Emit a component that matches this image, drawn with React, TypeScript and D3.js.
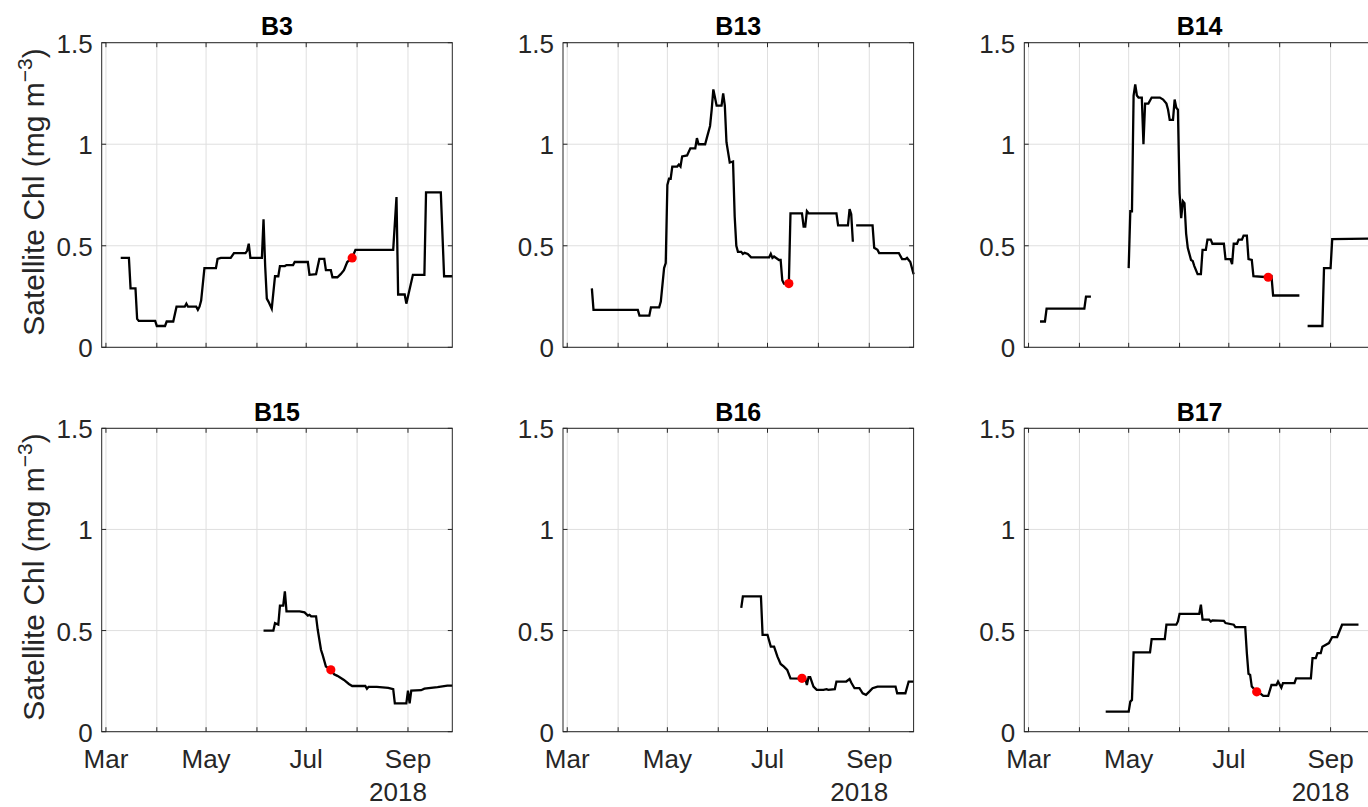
import React from "react";
import * as d3 from "d3";

type Pt = [string, number] | null;

// month ticks / grid lines and their labels (every other month is labelled)
const monthTicks = ["2018-03-01", "2018-04-01", "2018-05-01", "2018-06-01", "2018-07-01", "2018-08-01", "2018-09-01"];
const monthLabels = ["Mar", "", "May", "", "Jul", "", "Sep"];
const yearLabel = "2018";
const yTicks = [0, 0.5, 1, 1.5];
const yTickLabels = ["0", "0.5", "1", "1.5"];
const titles = ["B3", "B13", "B14", "B15", "B16", "B17"];

// satellite chl series (null = gap in the record)
const b3: Pt[] = [
  ["2018-03-10", 0.44], ["2018-03-15", 0.44], ["2018-03-16", 0.29], ["2018-03-19", 0.29], ["2018-03-20", 0.14],
  ["2018-03-21", 0.13], ["2018-03-31", 0.13], ["2018-04-01", 0.105], ["2018-04-06", 0.105], ["2018-04-07", 0.127],
  ["2018-04-11", 0.127], ["2018-04-13", 0.2], ["2018-04-18", 0.2], ["2018-04-19", 0.215], ["2018-04-20", 0.2],
  ["2018-04-25", 0.2], ["2018-04-26", 0.185], ["2018-04-27", 0.2], ["2018-04-28", 0.23], ["2018-04-30", 0.39],
  ["2018-05-07", 0.39], ["2018-05-08", 0.435], ["2018-05-10", 0.44], ["2018-05-16", 0.44], ["2018-05-18", 0.464],
  ["2018-05-25", 0.464], ["2018-05-26", 0.475], ["2018-05-27", 0.51], ["2018-05-28", 0.44], ["2018-06-04", 0.44],
  ["2018-06-05", 0.63], ["2018-06-06", 0.4], ["2018-06-07", 0.24], ["2018-06-08", 0.225], ["2018-06-10", 0.19],
  ["2018-06-12", 0.35], ["2018-06-14", 0.35], ["2018-06-15", 0.4], ["2018-06-18", 0.4], ["2018-06-19", 0.405],
  ["2018-06-23", 0.405], ["2018-06-24", 0.42], ["2018-07-02", 0.42], ["2018-07-03", 0.357], ["2018-07-07", 0.36],
  ["2018-07-09", 0.435], ["2018-07-12", 0.435], ["2018-07-13", 0.38], ["2018-07-16", 0.38], ["2018-07-17", 0.345],
  ["2018-07-20", 0.345], ["2018-07-22", 0.36], ["2018-07-24", 0.38], ["2018-07-26", 0.42], ["2018-07-29", 0.44],
  ["2018-07-31", 0.48], ["2018-08-23", 0.48], ["2018-08-25", 0.74], ["2018-08-26", 0.26], ["2018-08-30", 0.26],
  ["2018-08-31", 0.215], ["2018-09-04", 0.357], ["2018-09-11", 0.357], ["2018-09-12", 0.763], ["2018-09-21", 0.763],
  ["2018-09-23", 0.35], ["2018-09-28", 0.35],
];

const b13: Pt[] = [
  ["2018-03-16", 0.29], ["2018-03-17", 0.184], ["2018-04-13", 0.184], ["2018-04-14", 0.156], ["2018-04-20", 0.156],
  ["2018-04-21", 0.197], ["2018-04-26", 0.197], ["2018-04-27", 0.225], ["2018-04-29", 0.39], ["2018-04-30", 0.415],
  ["2018-05-01", 0.8], ["2018-05-02", 0.83], ["2018-05-03", 0.83], ["2018-05-04", 0.89], ["2018-05-07", 0.89],
  ["2018-05-08", 0.9], ["2018-05-09", 0.89], ["2018-05-10", 0.94], ["2018-05-13", 0.945], ["2018-05-15", 0.98],
  ["2018-05-18", 0.98], ["2018-05-19", 1.03], ["2018-05-20", 1.0], ["2018-05-24", 1.0], ["2018-05-25", 1.03],
  ["2018-05-27", 1.09], ["2018-05-28", 1.17], ["2018-05-29", 1.27], ["2018-05-30", 1.23], ["2018-05-31", 1.19],
  ["2018-06-03", 1.19], ["2018-06-04", 1.25], ["2018-06-05", 1.19], ["2018-06-06", 1.01], ["2018-06-08", 0.91],
  ["2018-06-10", 0.915], ["2018-06-11", 0.645], ["2018-06-12", 0.5], ["2018-06-13", 0.47], ["2018-06-15", 0.47],
  ["2018-06-16", 0.46], ["2018-06-17", 0.465], ["2018-06-19", 0.46], ["2018-06-21", 0.443], ["2018-07-02", 0.443],
  ["2018-07-03", 0.46], ["2018-07-04", 0.44], ["2018-07-05", 0.447], ["2018-07-08", 0.43], ["2018-07-09", 0.43],
  ["2018-07-10", 0.33], ["2018-07-11", 0.314], ["2018-07-14", 0.314], ["2018-07-15", 0.66], ["2018-07-22", 0.66],
  ["2018-07-23", 0.595], ["2018-07-24", 0.595], ["2018-07-25", 0.67], ["2018-07-26", 0.66], ["2018-08-12", 0.66],
  ["2018-08-13", 0.6], ["2018-08-19", 0.6], ["2018-08-20", 0.68], ["2018-08-21", 0.655], ["2018-08-22", 0.52],
  null,
  ["2018-08-24", 0.6], ["2018-09-03", 0.6], ["2018-09-04", 0.49], ["2018-09-06", 0.48], ["2018-09-07", 0.464],
  ["2018-09-19", 0.464], ["2018-09-21", 0.434], ["2018-09-23", 0.434], ["2018-09-24", 0.44], ["2018-09-26", 0.42],
  ["2018-09-28", 0.36],
];

const b14: Pt[] = [
  ["2018-03-08", 0.127], ["2018-03-11", 0.127], ["2018-03-12", 0.19], ["2018-04-04", 0.19], ["2018-04-05", 0.25],
  ["2018-04-08", 0.25],
  null,
  ["2018-05-01", 0.39], ["2018-05-02", 0.67], ["2018-05-03", 0.67], ["2018-05-04", 1.24], ["2018-05-05", 1.295],
  ["2018-05-06", 1.24], ["2018-05-07", 1.23], ["2018-05-09", 1.23], ["2018-05-10", 1.0], ["2018-05-11", 1.2],
  ["2018-05-13", 1.2], ["2018-05-15", 1.23], ["2018-05-20", 1.23], ["2018-05-22", 1.22], ["2018-05-24", 1.2],
  ["2018-05-25", 1.17], ["2018-05-26", 1.12], ["2018-05-28", 1.12], ["2018-05-29", 1.22], ["2018-05-30", 1.18],
  ["2018-05-31", 1.17], ["2018-06-01", 0.76], ["2018-06-02", 0.636], ["2018-06-03", 0.72], ["2018-06-04", 0.71],
  ["2018-06-05", 0.56], ["2018-06-06", 0.49], ["2018-06-08", 0.43], ["2018-06-09", 0.425], ["2018-06-10", 0.4],
  ["2018-06-12", 0.36], ["2018-06-14", 0.36], ["2018-06-15", 0.48], ["2018-06-17", 0.48], ["2018-06-18", 0.53],
  ["2018-06-20", 0.53], ["2018-06-21", 0.51], ["2018-06-28", 0.51], ["2018-06-29", 0.434], ["2018-07-02", 0.434],
  ["2018-07-03", 0.41], ["2018-07-04", 0.51], ["2018-07-06", 0.51], ["2018-07-07", 0.53], ["2018-07-09", 0.53],
  ["2018-07-10", 0.55], ["2018-07-12", 0.55], ["2018-07-13", 0.434], ["2018-07-15", 0.43], ["2018-07-16", 0.35],
  ["2018-07-25", 0.345], ["2018-07-27", 0.35], ["2018-07-28", 0.255], ["2018-08-13", 0.255],
  null,
  ["2018-08-18", 0.105], ["2018-08-27", 0.105], ["2018-08-28", 0.39], ["2018-09-01", 0.39], ["2018-09-02", 0.533],
  ["2018-09-28", 0.535],
];

const b15: Pt[] = [
  ["2018-06-05", 0.5], ["2018-06-11", 0.5], ["2018-06-12", 0.537], ["2018-06-14", 0.53], ["2018-06-15", 0.623],
  ["2018-06-17", 0.623], ["2018-06-18", 0.694], ["2018-06-19", 0.595], ["2018-06-27", 0.595], ["2018-06-30", 0.59],
  ["2018-07-02", 0.574], ["2018-07-03", 0.578], ["2018-07-04", 0.57], ["2018-07-07", 0.57], ["2018-07-08", 0.505],
  ["2018-07-10", 0.405], ["2018-07-11", 0.38], ["2018-07-13", 0.322], ["2018-07-16", 0.306], ["2018-07-18", 0.284],
  ["2018-07-20", 0.276], ["2018-07-24", 0.256], ["2018-07-27", 0.236], ["2018-07-29", 0.226], ["2018-08-06", 0.226],
  ["2018-08-07", 0.212], ["2018-08-08", 0.222], ["2018-08-13", 0.222], ["2018-08-20", 0.217], ["2018-08-23", 0.21],
  ["2018-08-24", 0.14], ["2018-08-31", 0.14], ["2018-09-01", 0.203], ["2018-09-02", 0.14], ["2018-09-03", 0.203],
  ["2018-09-09", 0.205], ["2018-09-11", 0.213], ["2018-09-19", 0.22], ["2018-09-25", 0.228], ["2018-09-28", 0.228],
];

const b16: Pt[] = [
  ["2018-06-15", 0.612], ["2018-06-16", 0.669], ["2018-06-27", 0.669], ["2018-06-28", 0.479], ["2018-07-01", 0.479],
  ["2018-07-03", 0.421], ["2018-07-05", 0.421], ["2018-07-07", 0.372], ["2018-07-09", 0.335], ["2018-07-11", 0.322],
  ["2018-07-13", 0.306], ["2018-07-15", 0.264], ["2018-07-24", 0.262], ["2018-07-25", 0.231], ["2018-07-26", 0.27],
  ["2018-07-27", 0.27], ["2018-07-29", 0.223], ["2018-07-31", 0.207], ["2018-08-04", 0.207], ["2018-08-06", 0.21],
  ["2018-08-07", 0.207], ["2018-08-11", 0.21], ["2018-08-12", 0.248], ["2018-08-18", 0.248], ["2018-08-20", 0.26],
  ["2018-08-21", 0.243], ["2018-08-23", 0.215], ["2018-08-26", 0.215], ["2018-08-28", 0.19], ["2018-08-30", 0.182],
  ["2018-09-01", 0.198], ["2018-09-03", 0.215], ["2018-09-06", 0.223], ["2018-09-17", 0.223], ["2018-09-18", 0.19],
  ["2018-09-23", 0.19], ["2018-09-25", 0.248], ["2018-09-28", 0.248],
];

const b17: Pt[] = [
  ["2018-04-17", 0.099], ["2018-05-01", 0.099], ["2018-05-02", 0.149], ["2018-05-03", 0.157], ["2018-05-04", 0.392],
  ["2018-05-14", 0.392], ["2018-05-15", 0.458], ["2018-05-23", 0.458], ["2018-05-24", 0.529], ["2018-05-30", 0.529],
  ["2018-05-31", 0.545], ["2018-06-01", 0.583], ["2018-06-13", 0.583], ["2018-06-14", 0.628], ["2018-06-15", 0.554],
  ["2018-06-19", 0.554], ["2018-06-20", 0.545], ["2018-06-21", 0.55], ["2018-06-28", 0.548], ["2018-06-29", 0.537],
  ["2018-07-04", 0.529], ["2018-07-05", 0.517], ["2018-07-11", 0.517], ["2018-07-12", 0.388], ["2018-07-13", 0.286],
  ["2018-07-14", 0.281], ["2018-07-15", 0.223], ["2018-07-18", 0.197], ["2018-07-20", 0.19], ["2018-07-22", 0.177],
  ["2018-07-25", 0.177], ["2018-07-27", 0.231], ["2018-07-30", 0.231], ["2018-07-31", 0.248], ["2018-08-02", 0.218],
  ["2018-08-03", 0.24], ["2018-08-10", 0.24], ["2018-08-11", 0.264], ["2018-08-20", 0.264], ["2018-08-21", 0.364],
  ["2018-08-23", 0.364], ["2018-08-24", 0.388], ["2018-08-26", 0.388], ["2018-08-27", 0.42], ["2018-08-31", 0.438],
  ["2018-09-02", 0.468], ["2018-09-05", 0.468], ["2018-09-08", 0.529], ["2018-09-18", 0.529],
];

// red markers, one per panel
const redDots: [string, number][] = [
  ["2018-07-29", 0.44], ["2018-07-14", 0.314], ["2018-07-25", 0.345],
  ["2018-07-16", 0.306], ["2018-07-22", 0.264], ["2018-07-18", 0.197],
];

const series = [b3, b13, b14, b15, b16, b17];

const parse = d3.timeParse("%Y-%m-%d");
const ink = "#262626";
const gridColor = "#dfdfdf";
const font = "'Liberation Sans', Arial, Helvetica, sans-serif";

// layout of the 2x3 axes grid (matlab subplot look)
const colLeft = [101.7, 563, 1024.3];
const rowTop = [42.7, 428.3];
const axW = 350.6;
const axH = [304.6, 303.4];
const tickLen = 4.5;

function Panel({ i }: { i: number }) {
  const col = i % 3;
  const row = Math.floor(i / 3);
  const left = colLeft[col];
  const top = rowTop[row];
  const right = left + axW;
  const bottom = top + axH[row];

  const x = d3
    .scaleTime()
    .domain([new Date(2018, 1, 26, 10), new Date(2018, 8, 28, 0)])
    .range([left, right]);
  const y = d3.scaleLinear().domain([0, 1.5]).range([bottom, top]);

  const line = d3
    .line<Pt>()
    .defined((d) => d !== null)
    .x((d) => x(parse(d![0])!))
    .y((d) => y(d![1]));

  const months = monthTicks.map((m) => parse(m)!);
  const dot = redDots[i];

  return (
    <g>
      {/* grid */}
      {months.map((m, k) => (
        <line key={"gx" + k} x1={x(m)} x2={x(m)} y1={top} y2={bottom} stroke={gridColor} strokeWidth={1} />
      ))}
      {yTicks.map((t, k) => (
        <line key={"gy" + k} x1={left} x2={right} y1={y(t)} y2={y(t)} stroke={gridColor} strokeWidth={1} />
      ))}

      {/* data */}
      <path d={line(series[i]) || ""} fill="none" stroke="#000" strokeWidth={2.3} />
      <circle cx={x(parse(dot[0])!)} cy={y(dot[1])} r={4.6} fill="#ff0000" />

      {/* box */}
      <rect x={left} y={top} width={axW} height={axH[row]} fill="none" stroke={ink} strokeWidth={1} />

      {/* ticks, pointing in */}
      {months.map((m, k) => (
        <g key={"tx" + k}>
          <line x1={x(m)} x2={x(m)} y1={bottom} y2={bottom - tickLen} stroke={ink} />
          <line x1={x(m)} x2={x(m)} y1={top} y2={top + tickLen} stroke={ink} />
        </g>
      ))}
      {yTicks.map((t, k) => (
        <g key={"ty" + k}>
          <line x1={left} x2={left + tickLen} y1={y(t)} y2={y(t)} stroke={ink} />
          <line x1={right} x2={right - tickLen} y1={y(t)} y2={y(t)} stroke={ink} />
        </g>
      ))}

      {/* y tick labels */}
      {yTicks.map((t, k) => (
        <text key={"yl" + k} x={left - 9} y={y(t) + 10} textAnchor="end" fontSize={26} fill={ink} fontFamily={font}>
          {yTickLabels[k]}
        </text>
      ))}

      {/* x tick labels on the bottom row only */}
      {row === 1 &&
        months.map((m, k) =>
          monthLabels[k] ? (
            <text key={"xl" + k} x={x(m)} y={767.5} textAnchor="middle" fontSize={26} fill={ink} fontFamily={font}>
              {monthLabels[k]}
            </text>
          ) : null
        )}
      {row === 1 && (
        <text x={x(months[6]) - 10} y={801} textAnchor="middle" fontSize={26} fill={ink} fontFamily={font}>
          {yearLabel}
        </text>
      )}

      {/* title */}
      <text x={(left + right) / 2} y={top - 7.5} textAnchor="middle" fontSize={25} fontWeight="bold" fill="#000" fontFamily={font}>
        {titles[i]}
      </text>

      {/* y label, left column only */}
      {col === 0 && (
        <text
          transform={`translate(43.5, ${(top + bottom) / 2 - 3}) rotate(-90)`}
          textAnchor="middle"
          fontSize={30}
          fill={ink}
          fontFamily={font}
        >
          Satellite Chl (mg m
          <tspan fontSize={21} dy={-12}>
            −3
          </tspan>
          <tspan dy={12}>)</tspan>
        </text>
      )}
    </g>
  );
}

export default function App() {
  return (
    <svg
      width={1368}
      height={807}
      style={{ position: "absolute", left: 0, top: 0, background: "#fff" }}
    >
      <rect x={0} y={0} width={1368} height={807} fill="#fff" />
      {titles.map((t, i) => (
        <Panel key={t} i={i} />
      ))}
    </svg>
  );
}
